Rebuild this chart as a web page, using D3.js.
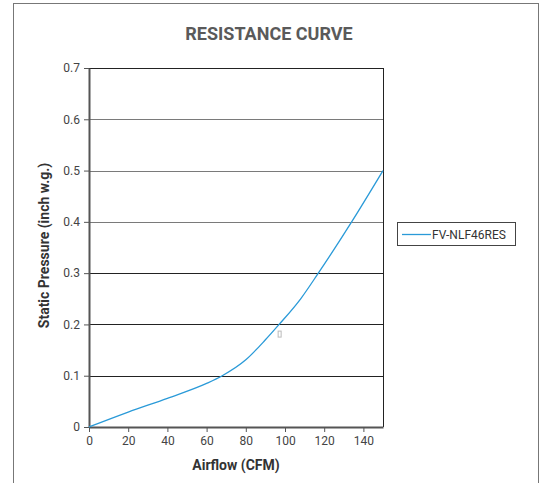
<!DOCTYPE html>
<html>
<head>
<meta charset="utf-8">
<script src="https://cdn.jsdelivr.net/npm/d3@7"></script>
<style>
  body { margin: 0; background: #fff; }
  svg { display: block; }
</style>
</head>
<body>
<svg id="viz" width="540" height="483"></svg>
<script>
// === DATA ===
const seriesName = "FV-NLF46RES";
const airflow = [0, 20, 40, 60, 68, 80, 90, 97, 108, 117, 134, 150];
const pressure = [0, 0.029, 0.056, 0.085, 0.1, 0.131, 0.17, 0.2, 0.25, 0.3, 0.4, 0.5];
const xTicks = [0, 20, 40, 60, 80, 100, 120, 140];
const yTicks = [0, 0.1, 0.2, 0.3, 0.4, 0.5, 0.6, 0.7];

const svg = d3.select("#viz");
const margin = { top: 68, left: 89 };
const plotWidth = 294;
const plotHeight = 359;
const fontStack = "'Roboto', 'Liberation Sans', sans-serif";

// outer frame
svg.append("rect")
  .attr("x", 13.5).attr("y", 3.5)
  .attr("width", 525).attr("height", 500)
  .attr("fill", "none")
  .attr("stroke", "#777");

svg.append("text")
  .attr("x", 269).attr("y", 40)
  .attr("text-anchor", "middle")
  .attr("fill", "#5a5a5a")
  .style("font-family", fontStack)
  .style("font-weight", "bold")
  .style("font-size", "18px")
  .text("RESISTANCE CURVE");

const g = svg.append("g").attr("transform", `translate(${margin.left},${margin.top})`);

const x = d3.scaleLinear().domain([0, 150]).range([0, plotWidth]);
const y = d3.scaleLinear().domain([0, 0.7]).range([plotHeight, 0]);

// gridlines
g.selectAll(".grid")
  .data(yTicks.filter(d => d > 0))
  .enter()
  .append("line")
  .attr("x1", 0).attr("x2", plotWidth)
  .attr("y1", d => Math.round(y(d)) + 0.5)
  .attr("y2", d => Math.round(y(d)) + 0.5)
  .attr("stroke", d => (d >= 0.4 && d <= 0.6) ? "#7a7a7a" : "#222")
  .attr("stroke-width", 1);

// right border
g.append("line")
  .attr("x1", plotWidth + 0.5).attr("x2", plotWidth + 0.5)
  .attr("y1", 0).attr("y2", plotHeight)
  .attr("stroke", "#222");

// axes
const xAxis = g.append("g")
  .attr("transform", `translate(0,${plotHeight})`)
  .call(d3.axisBottom(x).tickValues(xTicks).tickSize(5).tickSizeOuter(0).tickPadding(4));

const yAxis = g.append("g")
  .call(d3.axisLeft(y).tickValues(yTicks).tickFormat(d => d === 0 ? "0" : d3.format(".1f")(d)).tickSize(5).tickSizeOuter(0).tickPadding(4));

[xAxis, yAxis].forEach(a => {
  a.select(".domain").attr("stroke", "#555").attr("stroke-width", 2);
  a.selectAll(".tick line").attr("stroke", "#555");
  a.selectAll(".tick text")
    .attr("fill", "#444")
    .style("font-family", fontStack)
    .style("font-size", "12px");
});

// axis titles
g.append("text")
  .attr("x", plotWidth / 2)
  .attr("y", plotHeight + 43)
  .attr("text-anchor", "middle")
  .attr("fill", "#333")
  .style("font-family", fontStack)
  .style("font-weight", "bold")
  .style("font-size", "14px")
  .text("Airflow (CFM)");

g.append("text")
  .attr("transform", "rotate(-90)")
  .attr("x", -plotHeight / 2 + 2)
  .attr("y", -40)
  .attr("text-anchor", "middle")
  .attr("fill", "#333")
  .style("font-family", fontStack)
  .style("font-weight", "bold")
  .style("font-size", "14px")
  .text("Static Pressure (inch w.g.)");

// curve
const points = airflow.map((a, i) => ({ airflow: a, pressure: pressure[i] }));
const line = d3.line()
  .x(d => x(d.airflow))
  .y(d => y(d.pressure))
  .curve(d3.curveMonotoneX);

g.append("path")
  .datum(points)
  .attr("fill", "none")
  .attr("stroke", "#2a9ad8")
  .attr("stroke-width", 1.3)
  .attr("d", line);

// small stray marker under the curve
g.append("rect")
  .attr("x", x(96.5)).attr("y", y(0.187))
  .attr("width", 3).attr("height", 6)
  .attr("fill", "none")
  .attr("stroke", "#bbb");

// legend
const legend = svg.append("g").attr("transform", "translate(397,222)");
legend.append("rect")
  .attr("x", 0.5).attr("y", 0.5)
  .attr("width", 118).attr("height", 23)
  .attr("fill", "#fff")
  .attr("stroke", "#444");
legend.append("line")
  .attr("x1", 5).attr("x2", 34)
  .attr("y1", 12.5).attr("y2", 12.5)
  .attr("stroke", "#2a9ad8")
  .attr("stroke-width", 1.3);
legend.append("text")
  .attr("x", 35).attr("y", 16.5)
  .attr("fill", "#333")
  .style("font-family", fontStack)
  .style("font-size", "12px")
  .text(seriesName);
</script>
</body>
</html>
